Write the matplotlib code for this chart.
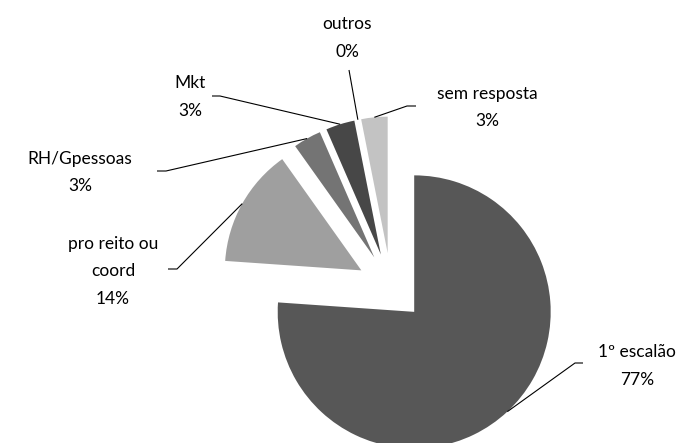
import numpy as np
import matplotlib
matplotlib.use('Agg')
from matplotlib import pyplot as plt

# data (share of answers)
categories = ['1º escalão', 'pro reito ou\ncoord', 'RH/Gpessoas', 'Mkt', 'outros', 'sem resposta']
values = [75.8, 14.0, 3.3, 3.4, 0.0, 3.1]
pct_labels = ['77%', '14%', '3%', '3%', '0%', '3%']

colors = ['#575757', '#9f9f9f', '#747474', '#474747', '#ffffff', '#c3c3c3']

W, H = 691, 443
plt.rcParams['font.family'] = ['Lato', 'DejaVu Sans']

fig = plt.figure(figsize=(W / 100, H / 100), dpi=100)
ax = fig.add_axes([0, 0, 1, 1])

# pie centre / radius / explode offset in pixels (y measured from top of image)
cx, cy, r = 391, 287, 136.5
offset = 34

wedges, _ = ax.pie(values, colors=colors, startangle=90, counterclock=False,
                   center=(cx, H - cy), radius=r, explode=[offset] * len(values),
                   wedgeprops=dict(linewidth=0), frame=True)
ax.set_xlim(0, W)
ax.set_ylim(0, H)
ax.set_aspect('equal')
ax.axis('off')

# label layout: text centre, elbow point, line end (pixels from top-left)
text_pos = [(637, 366), (113, 271.5), (80, 172.5), (190, 97), (347, 38), (487, 107.5)]
elbows = [((575, 363), (583, 363)),
          ((177, 269), (168, 269)),
          ((166, 171), (157, 171)),
          ((220, 96), (212, 96)),
          (None, (349, 70)),
          ((407, 106), (416, 106))]

for w, cat, pct, tp, (elb, end) in zip(wedges, categories, pct_labels, text_pos, elbows):
    ang = np.deg2rad((w.theta1 + w.theta2) / 2)
    x0 = w.center[0] + w.r * np.cos(ang)
    y0 = w.center[1] + w.r * np.sin(ang)
    xs, ys = [x0], [y0]
    if elb is not None:
        xs.append(elb[0])
        ys.append(H - elb[1])
    xs.append(end[0])
    ys.append(H - end[1])
    ax.plot(xs, ys, color='black', lw=0.8, solid_capstyle='butt')
    ax.text(tp[0], H - tp[1], cat + '\n' + pct, ha='center', va='center',
            fontsize=12.5, linespacing=1.85, color='black')

fig.savefig('out.png', dpi=100)
